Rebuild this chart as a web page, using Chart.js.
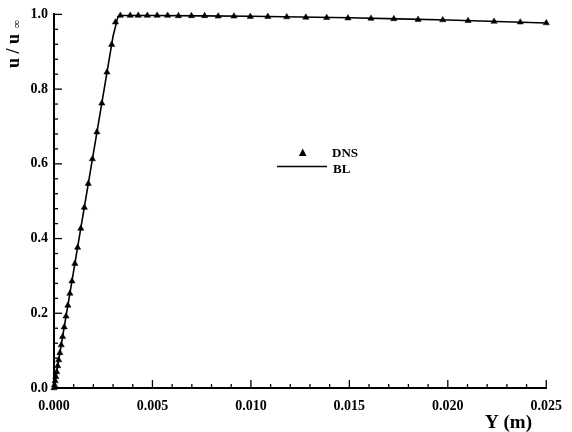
<!DOCTYPE html>
<html>
<head>
<meta charset="utf-8">
<script src="https://cdn.jsdelivr.net/npm/chart.js@4.4.1/dist/chart.umd.min.js"></script>
<style>
html,body{margin:0;padding:0;background:#fff;}
#wrap{width:572px;height:432px;position:relative;}
</style>
</head>
<body>
<div id="wrap"><canvas id="c" width="572" height="432"></canvas></div>
<script>
// DNS samples (Y in m, u/u_inf)
const dnsX = [0, 0.000025, 0.00006, 0.000096, 0.000137, 0.000188, 0.000239, 0.0003, 0.000367, 0.000437,
  0.00052, 0.000612, 0.000704, 0.000806, 0.000912, 0.00106, 0.0012, 0.00136, 0.00154, 0.00174,
  0.00195, 0.00218, 0.00243, 0.00269, 0.00293, 0.00312,
  0.00337, 0.00387, 0.00428, 0.00474, 0.00524, 0.00577, 0.00632, 0.00698, 0.00765, 0.00834,
  0.00914, 0.00997, 0.01086, 0.01182, 0.01279, 0.01385, 0.01493, 0.0161, 0.01726, 0.01849,
  0.01974, 0.02103, 0.02235, 0.02368, 0.025];
const dnsY = [0, 0.008, 0.019, 0.030, 0.043, 0.059, 0.075, 0.094, 0.115, 0.137,
  0.163, 0.192, 0.221, 0.253, 0.286, 0.333, 0.376, 0.427, 0.483, 0.547,
  0.613, 0.685, 0.762, 0.845, 0.919, 0.979,
  0.997, 0.997, 0.997, 0.997, 0.997, 0.997, 0.996, 0.996, 0.996, 0.995,
  0.995, 0.994, 0.994, 0.993, 0.992, 0.991, 0.990, 0.989, 0.988, 0.986,
  0.985, 0.983, 0.981, 0.979, 0.977];
// BL solution
const blX = [0, 0.001, 0.002, 0.003, 0.00325, 0.0035, 0.005, 0.0075, 0.01, 0.0125, 0.015, 0.0175, 0.02, 0.0225, 0.025];
const blY = [0, 0.314, 0.628, 0.942, 0.994, 0.997, 0.997, 0.996, 0.995, 0.993, 0.991, 0.988, 0.985, 0.981, 0.977];
// tick labels
const xTicks = [0, 0.005, 0.010, 0.015, 0.020, 0.025];
const yTicks = [0, 0.2, 0.4, 0.6, 0.8, 1.0];

const serif = '"Liberation Serif", "DejaVu Serif", serif';

const decor = {
  id: 'decor',
  afterDraw(chart) {
    const ctx = chart.ctx;
    const xs = chart.scales.x, ys = chart.scales.y;
    const a = chart.chartArea;
    ctx.save();
    ctx.strokeStyle = '#000';
    ctx.lineWidth = 1.3;
    // x ticks (inward, up)
    for (let i = 0; i <= 25; i++) {
      const px = xs.getPixelForValue(i * 0.001);
      const len = (i % 5 === 0) ? 8 : 4;
      ctx.beginPath(); ctx.moveTo(px, a.bottom); ctx.lineTo(px, a.bottom - len); ctx.stroke();
    }
    // y ticks (inward, right)
    for (let i = 0; i <= 25; i++) {
      const py = ys.getPixelForValue(i * 0.04);
      const len = (i % 5 === 0) ? 8 : 4;
      ctx.beginPath(); ctx.moveTo(a.left, py); ctx.lineTo(a.left + len, py); ctx.stroke();
    }
    ctx.fillStyle = '#000';
    // y title
    ctx.save();
    ctx.translate(19, 68);
    ctx.rotate(-Math.PI / 2);
    ctx.font = 'bold 18px ' + serif;
    ctx.textBaseline = 'alphabetic';
    ctx.textAlign = 'left';
    ctx.fillText('u / u', 0, 0);
    const w = ctx.measureText('u / u').width;
    ctx.font = 'bold 11px ' + serif;
    ctx.fillText('\u221E', w + 6, 1);
    ctx.restore();
    // x title
    ctx.font = 'bold 19px ' + serif;
    ctx.textAlign = 'left';
    ctx.textBaseline = 'alphabetic';
    ctx.fillText('Y (m)', 485, 428);
    // legend
    ctx.beginPath();
    ctx.moveTo(302.7, 148.5); ctx.lineTo(306.5, 156); ctx.lineTo(298.9, 156); ctx.closePath(); ctx.fill();
    ctx.lineWidth = 1.6;
    ctx.beginPath(); ctx.moveTo(277, 166.5); ctx.lineTo(327, 166.5); ctx.stroke();
    ctx.font = 'bold 13px ' + serif;
    ctx.fillText('DNS', 332, 156.5);
    ctx.fillText('BL', 333, 173);
    ctx.restore();
  }
};

new Chart(document.getElementById('c'), {
  type: 'scatter',
  data: {
    datasets: [
      {
        label: 'BL',
        data: blX.map((x, i) => ({x: x, y: blY[i]})),
        showLine: true,
        borderColor: '#000',
        borderWidth: 1.6,
        pointRadius: 0,
        tension: 0,
        clip: false
      },
      {
        label: 'DNS',
        data: dnsX.map((x, i) => ({x: x, y: dnsY[i]})),
        showLine: false,
        pointStyle: 'triangle',
        pointRadius: 3.6,
        backgroundColor: '#000',
        borderColor: '#000',
        borderWidth: 0.5,
        clip: false
      }
    ]
  },
  options: {
    responsive: false,
    animation: false,
    events: [],
    layout: { padding: { top: 13, right: 16, left: 0, bottom: 0 } },
    plugins: { legend: { display: false }, tooltip: { enabled: false } },
    scales: {
      x: {
        type: 'linear',
        min: 0, max: 0.025,
        afterFit(s) { s.height = 44; },
        afterBuildTicks(s) { s.ticks = xTicks.map(v => ({value: v})); },
        grid: { display: false, drawTicks: false, tickLength: 0 },
        border: { display: true, color: '#000', width: 2 },
        ticks: {
          padding: 10,
          color: '#000',
          font: { family: serif, weight: 'bold', size: 14 },
          maxRotation: 0,
          callback: v => Number(v).toFixed(3)
        }
      },
      y: {
        type: 'linear',
        min: 0, max: 1.0,
        afterFit(s) { s.width = 54; },
        afterBuildTicks(s) { s.ticks = yTicks.map(v => ({value: v})); },
        grid: { display: false, drawTicks: false, tickLength: 0 },
        border: { display: true, color: '#000', width: 2 },
        ticks: {
          padding: 6,
          color: '#000',
          font: { family: serif, weight: 'bold', size: 14 },
          callback: v => Number(v).toFixed(1)
        }
      }
    }
  },
  plugins: [decor]
});
</script>
</body>
</html>
